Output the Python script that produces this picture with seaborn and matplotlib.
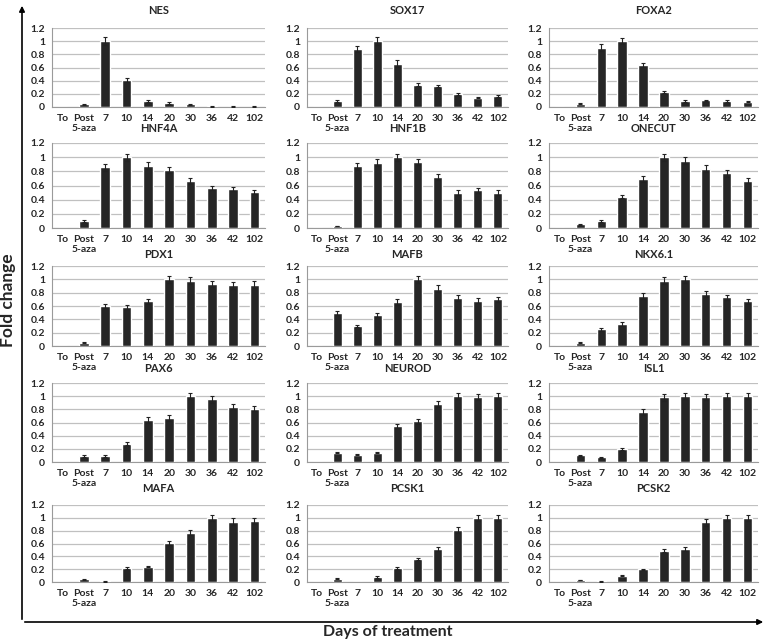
import numpy as np
import pandas as pd
import matplotlib
matplotlib.use("Agg")
import matplotlib.pyplot as plt
import seaborn as sns

sns.set_theme(style="white")
plt.rcParams['font.family'] = ['Lato', 'DejaVu Sans']

# Data
days = ["To", "Post\n5-aza", "7", "10", "14", "20", "30", "36", "42", "102"]

nes = [0, 0.04, 1.0, 0.41, 0.09, 0.06, 0.04, 0.01, 0.005, 0.005]
nes_err = [0, 0.005, 0.06, 0.03, 0.01, 0.01, 0.01, 0.004, 0.003, 0.003]
sox17 = [0, 0.09, 0.88, 1.0, 0.66, 0.34, 0.32, 0.20, 0.14, 0.16]
sox17_err = [0, 0.01, 0.05, 0.06, 0.05, 0.02, 0.02, 0.015, 0.01, 0.015]
foxa2 = [0, 0.05, 0.90, 1.0, 0.64, 0.23, 0.09, 0.10, 0.09, 0.08]
foxa2_err = [0, 0.01, 0.05, 0.05, 0.03, 0.015, 0.01, 0.01, 0.01, 0.01]
hnf4a = [0, 0.10, 0.86, 1.0, 0.88, 0.82, 0.66, 0.57, 0.55, 0.51]
hnf4a_err = [0, 0.01, 0.05, 0.05, 0.05, 0.04, 0.04, 0.03, 0.03, 0.03]
hnf1b = [0, 0.03, 0.87, 0.92, 1.0, 0.93, 0.72, 0.50, 0.53, 0.50]
hnf1b_err = [0, 0.005, 0.05, 0.05, 0.05, 0.04, 0.04, 0.03, 0.03, 0.03]
onecut = [0, 0.05, 0.10, 0.44, 0.69, 1.0, 0.95, 0.84, 0.77, 0.67]
onecut_err = [0, 0.01, 0.01, 0.02, 0.04, 0.05, 0.05, 0.05, 0.05, 0.04]
pdx1 = [0, 0.05, 0.60, 0.59, 0.67, 1.0, 0.98, 0.93, 0.91, 0.92]
pdx1_err = [0, 0.01, 0.03, 0.03, 0.04, 0.05, 0.05, 0.05, 0.05, 0.05]
mafb = [0, 0.49, 0.30, 0.46, 0.66, 1.0, 0.86, 0.72, 0.68, 0.70]
mafb_err = [0, 0.03, 0.02, 0.03, 0.04, 0.05, 0.05, 0.04, 0.04, 0.04]
nkx61 = [0, 0.05, 0.25, 0.33, 0.75, 0.98, 1.0, 0.78, 0.73, 0.67]
nkx61_err = [0, 0.01, 0.02, 0.03, 0.04, 0.05, 0.05, 0.04, 0.04, 0.035]
pax6 = [0, 0.09, 0.09, 0.28, 0.64, 0.67, 1.0, 0.95, 0.84, 0.81]
pax6_err = [0, 0.01, 0.01, 0.02, 0.04, 0.04, 0.05, 0.05, 0.04, 0.04]
neurod = [0, 0.14, 0.11, 0.14, 0.54, 0.62, 0.88, 1.0, 0.99, 1.0]
neurod_err = [0, 0.01, 0.01, 0.01, 0.03, 0.04, 0.05, 0.05, 0.05, 0.05]
isl1 = [0, 0.10, 0.07, 0.20, 0.76, 0.98, 1.0, 0.99, 1.0, 1.0]
isl1_err = [0, 0.01, 0.01, 0.02, 0.04, 0.05, 0.05, 0.05, 0.05, 0.05]
mafa = [0, 0.04, 0.01, 0.22, 0.24, 0.61, 0.77, 1.0, 0.94, 0.95]
mafa_err = [0, 0.005, 0.003, 0.01, 0.01, 0.03, 0.04, 0.05, 0.05, 0.05]
pcsk1 = [0, 0.05, 0.0, 0.08, 0.22, 0.36, 0.52, 0.81, 1.0, 1.0]
pcsk1_err = [0, 0.005, 0.0, 0.01, 0.01, 0.02, 0.03, 0.04, 0.05, 0.05]
pcsk2 = [0, 0.03, 0.01, 0.10, 0.20, 0.49, 0.52, 0.93, 1.0, 1.0]
pcsk2_err = [0, 0.005, 0.003, 0.01, 0.01, 0.03, 0.03, 0.05, 0.05, 0.05]

genes = ["NES", "SOX17", "FOXA2", "HNF4A", "HNF1B", "ONECUT", "PDX1", "MAFB",
         "NKX6.1", "PAX6", "NEUROD", "ISL1", "MAFA", "PCSK1", "PCSK2"]
values = [nes, sox17, foxa2, hnf4a, hnf1b, onecut, pdx1, mafb, nkx61,
          pax6, neurod, isl1, mafa, pcsk1, pcsk2]
errors = [nes_err, sox17_err, foxa2_err, hnf4a_err, hnf1b_err, onecut_err,
          pdx1_err, mafb_err, nkx61_err, pax6_err, neurod_err, isl1_err,
          mafa_err, pcsk1_err, pcsk2_err]

W, H = 768, 640
fig = plt.figure(figsize=(W / 100, H / 100), dpi=100)

# panel layout in pixels: column x-extents, row (y of 1.2, y of 0, title y)
cols = [(52, 265), (307, 508), (549, 758)]
rows = [(28, 107, 11), (143, 228, 129), (266, 346, 254), (383, 462, 369), (505, 582, 488)]

bar_color = "#262626"
grid_color = "#c0c0c0"

for i, gene in enumerate(genes):
    r, c = divmod(i, 3)
    x0, x1 = cols[c]
    ytop, ybot, ytitle = rows[r]
    ax = fig.add_axes([x0 / W, 1 - ybot / H, (x1 - x0) / W, (ybot - ytop) / H])
    df = pd.DataFrame({"day": days, "fold": values[i], "err": errors[i]})
    sns.barplot(data=df, x="day", y="fold", color=bar_color, width=0.45,
                saturation=1, ax=ax, zorder=3)
    pos = np.arange(len(days))
    has = df["err"].to_numpy() > 0
    ax.errorbar(pos[has], df["fold"][has], yerr=df["err"][has], fmt="none",
                ecolor="#222222", elinewidth=0.8, capsize=1.2, capthick=0.8, zorder=4)
    ax.set_ylim(0, 1.2)
    ax.set_xlim(-0.5, len(days) - 0.5)
    ax.set_yticks([0, 0.2, 0.4, 0.6, 0.8, 1.0, 1.2])
    ax.set_yticklabels(["0", "0.2", "0.4", "0.6", "0.8", "1", "1.2"])
    ax.yaxis.grid(True, color=grid_color, linewidth=0.9, zorder=0)
    ax.set_axisbelow(True)
    ax.set_xlabel("")
    ax.set_ylabel("")
    for s in ["top", "right"]:
        ax.spines[s].set_visible(False)
    ax.spines["left"].set_color("#9a9a9a")
    ax.spines["bottom"].set_color("#9a9a9a")
    ax.spines["left"].set_linewidth(0.8)
    ax.spines["bottom"].set_linewidth(0.8)
    ax.set_xticks(pos)
    ax.set_xticklabels(days, fontsize=7.5, fontweight="bold", linespacing=1.15)
    ax.set_xticks(np.arange(len(days) + 1) - 0.5, minor=True)
    ax.tick_params(axis="x", which="major", length=0, pad=5)
    ax.tick_params(axis="x", which="minor", length=3, color="#9a9a9a", direction="out")
    ax.tick_params(axis="y", length=3, color="#9a9a9a", direction="out",
                   labelsize=7.5, pad=2)
    for lab in ax.get_yticklabels():
        lab.set_fontweight("bold")
    fig.text((x0 + x1) / 2 / W, 1 - ytitle / H, gene, ha="center", va="center",
             fontsize=8, fontweight="bold")

# outer arrows and labels
fig.add_artist(matplotlib.patches.FancyArrowPatch(
    (22 / W, 1 - 622 / H), (22 / W, 1 - 3 / H), transform=fig.transFigure,
    arrowstyle="-|>", mutation_scale=8, color="black", linewidth=1.2))
fig.add_artist(matplotlib.patches.FancyArrowPatch(
    (22 / W, 1 - 622 / H), (766 / W, 1 - 622 / H), transform=fig.transFigure,
    arrowstyle="-|>", mutation_scale=8, color="black", linewidth=1.2))
fig.text(8 / W, 1 - 300 / H, "Fold change", rotation=90, ha="center", va="center",
         fontsize=12.5, fontweight="bold")
fig.text(388 / W, 1 - 632 / H, "Days of treatment", ha="center", va="center",
         fontsize=11.5, fontweight="bold")

fig.savefig("out.png", dpi=100)
